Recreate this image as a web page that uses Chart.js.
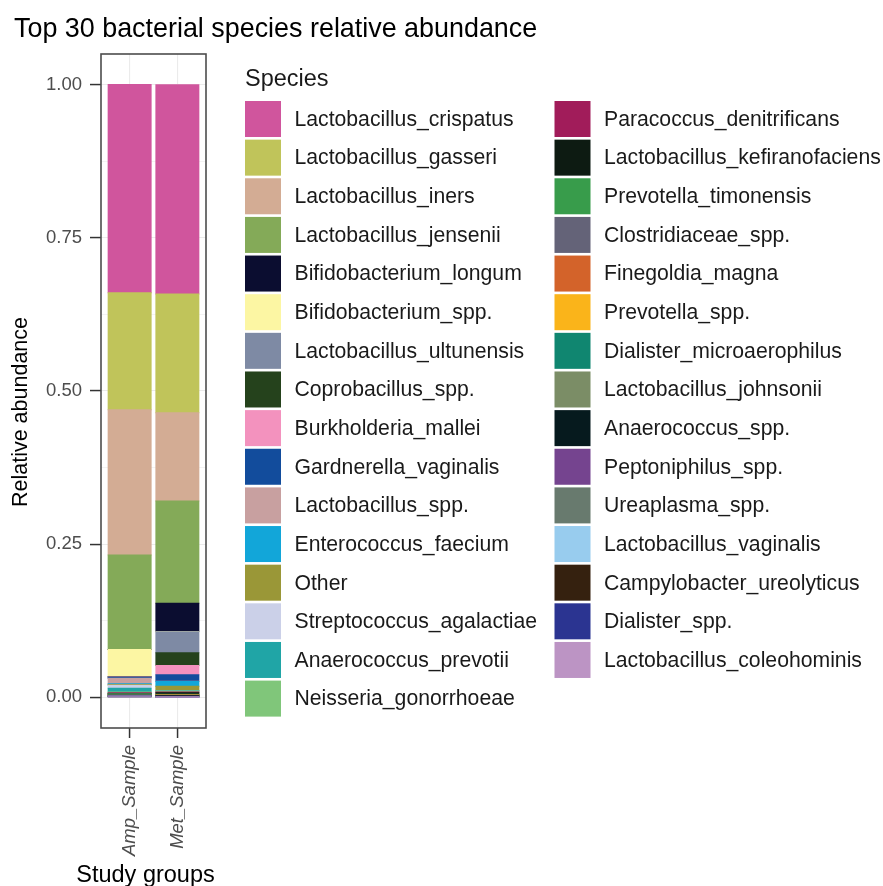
<!DOCTYPE html>
<html>
<head>
<meta charset="utf-8">
<script src="https://cdn.jsdelivr.net/npm/chart.js@4.4.0/dist/chart.umd.min.js"></script>
<style>
  html, body { margin: 0; padding: 0; background: #fff; }
  #wrap { width: 883px; height: 886px; position: relative; }
</style>
</head>
<body>
<div id="wrap"><canvas id="abundanceChart"></canvas></div>
<script>
// study groups on the x axis
const groups = ['Amp_Sample', 'Met_Sample'];
const groupPos = [1, 2];

// species in legend / stacking order (first one sits on top of the stack)
const species = [
    'Lactobacillus_crispatus', 'Lactobacillus_gasseri', 'Lactobacillus_iners', 'Lactobacillus_jensenii',
    'Bifidobacterium_longum', 'Bifidobacterium_spp.', 'Lactobacillus_ultunensis', 'Coprobacillus_spp.',
    'Burkholderia_mallei', 'Gardnerella_vaginalis', 'Lactobacillus_spp.', 'Enterococcus_faecium',
    'Other', 'Streptococcus_agalactiae', 'Anaerococcus_prevotii', 'Neisseria_gonorrhoeae',
    'Paracoccus_denitrificans', 'Lactobacillus_kefiranofaciens', 'Prevotella_timonensis', 'Clostridiaceae_spp.',
    'Finegoldia_magna', 'Prevotella_spp.', 'Dialister_microaerophilus', 'Lactobacillus_johnsonii',
    'Anaerococcus_spp.', 'Peptoniphilus_spp.', 'Ureaplasma_spp.', 'Lactobacillus_vaginalis',
    'Campylobacter_ureolyticus', 'Dialister_spp.', 'Lactobacillus_coleohominis'
];

const speciesColors = [
    '#D0559D', '#C0C45A', '#D3AC94', '#84AA58',
    '#0B0D30', '#FCF6A3', '#7E8AA4', '#25421C',
    '#F392BE', '#124C9C', '#C8A0A0', '#12A6D9',
    '#9A9737', '#CBD0E8', '#20A5A6', '#80C67A',
    '#A11C5A', '#0D1B12', '#389C4B', '#646378',
    '#D3632A', '#FAB41A', '#108670', '#7B8D66',
    '#061A1E', '#75448F', '#687A6E', '#98CCEE',
    '#35210F', '#2B3491', '#BC94C4'
];

// relative abundance per species, same order as species[]
const ampValues = [
    0.340, 0.191, 0.237, 0.154,
    0.000, 0.044, 0.0005, 0.0003,
    0.0005, 0.0018, 0.0090, 0.0012,
    0.0012, 0.0050, 0.0060, 0.0012,
    0.0012, 0.0003, 0.0010, 0.0003,
    0.0003, 0.0003, 0.0003, 0.0003,
    0.0003, 0.0012, 0.0003, 0.0003,
    0.0002, 0.0002, 0.0010
];
const metValues = [
    0.3415, 0.194, 0.144, 0.167,
    0.046, 0.0005, 0.034, 0.021,
    0.015, 0.0105, 0.0005, 0.008,
    0.007, 0.0003, 0.0003, 0.0015,
    0.0015, 0.0025, 0.0005, 0.0003,
    0.0003, 0.0003, 0.0003, 0.0003,
    0.0010, 0.0003, 0.0003, 0.0003,
    0.0005, 0.0002, 0.0003
];

// y axis breaks (major labelled, minor only as grid)
const yBreaks = [0, 0.125, 0.25, 0.375, 0.5, 0.625, 0.75, 0.875, 1];
const yMajor = [0, 0.25, 0.5, 0.75, 1];

const FONT = '"Liberation Sans", Arial, Helvetica, sans-serif';

function isMajor(v) {
    return yMajor.some(m => Math.abs(m - v) < 1e-9);
}

// titles, panel border and the two-column legend
const decorPlugin = {
    id: 'decor',
    afterDraw(chart) {
        const ctx = chart.ctx;
        const area = chart.chartArea;
        ctx.save();

        ctx.strokeStyle = '#4d4d4d';
        ctx.lineWidth = 1.6;
        ctx.strokeRect(area.left, area.top, area.right - area.left, area.bottom - area.top);

        ctx.fillStyle = '#000';
        ctx.textBaseline = 'alphabetic';
        ctx.textAlign = 'left';
        ctx.font = '26.9px ' + FONT;
        ctx.fillText('Top 30 bacterial species relative abundance', 14, 37);

        ctx.font = '23.5px ' + FONT;
        ctx.textAlign = 'center';
        ctx.fillText('Study groups', 145.5, 882);

        ctx.save();
        ctx.font = '21.5px ' + FONT;
        ctx.translate(27, 412);
        ctx.rotate(-Math.PI / 2);
        ctx.fillText('Relative abundance', 0, 0);
        ctx.restore();

        ctx.textAlign = 'left';
        ctx.fillStyle = '#1a1a1a';
        ctx.fillText('Species', 245, 86);

        // legend keys come from the same arrays as the bars
        ctx.font = '21.2px ' + FONT;
        ctx.textBaseline = 'middle';
        species.forEach((name, i) => {
            const col = i < 16 ? 0 : 1;
            const row = i < 16 ? i : i - 16;
            const kx = col === 0 ? 245 : 554.5;
            const ky = 101 + row * 38.64;
            ctx.fillStyle = speciesColors[i];
            ctx.fillRect(kx, ky, 36, 36);
            ctx.fillStyle = '#1a1a1a';
            ctx.fillText(name, kx + 49.5, ky + 19);
        });

        ctx.restore();
    }
};

document.addEventListener('DOMContentLoaded', function () {
    // Chart.js stacks the first dataset at the bottom, so feed them reversed
    const datasets = species.map((name, i) => ({
        label: name,
        data: groupPos.map((x, g) => ({ x: x, y: g === 0 ? ampValues[i] : metValues[i] })),
        backgroundColor: speciesColors[i],
        borderWidth: 0,
        inflateAmount: 0.5,
        barPercentage: 0.9,
        categoryPercentage: 1.0
    })).reverse();

    const chartCtx = document.getElementById('abundanceChart').getContext('2d');
    new Chart(chartCtx, {
        type: 'bar',
        data: { datasets: datasets },
        options: {
            responsive: true,
            maintainAspectRatio: false,
            animation: false,
            layout: { padding: { top: 54, right: 677, bottom: 0, left: 0 } },
            scales: {
                x: {
                    type: 'linear',
                    stacked: true,
                    offset: false,
                    min: 0.4,
                    max: 2.6,
                    afterBuildTicks(scale) {
                        scale.ticks = groupPos.map(v => ({ value: v }));
                    },
                    afterFit(scale) { scale.height = 158; },
                    ticks: {
                        autoSkip: false,
                        minRotation: 90,
                        maxRotation: 90,
                        padding: 7,
                        color: '#4d4d4d',
                        font: { family: FONT, size: 18.5, style: 'italic' },
                        callback: (value) => groups[groupPos.indexOf(value)] || ''
                    },
                    grid: {
                        offset: false,
                        color: '#ebebeb',
                        lineWidth: 1.1,
                        tickColor: '#333333',
                        tickWidth: 1.5,
                        tickLength: 10
                    },
                    border: { display: false }
                },
                y: {
                    stacked: true,
                    min: -0.05,
                    max: 1.05,
                    afterBuildTicks(scale) {
                        scale.ticks = yBreaks.map(v => ({ value: v }));
                    },
                    afterFit(scale) { scale.width = 101; },
                    ticks: {
                        autoSkip: false,
                        padding: 8,
                        color: '#4d4d4d',
                        font: { family: FONT, size: 18.5 },
                        callback: (value) => isMajor(value) ? value.toFixed(2) : ''
                    },
                    grid: {
                        color: '#ebebeb',
                        lineWidth: (c) => (c.tick && isMajor(c.tick.value)) ? 1.1 : 0.6,
                        tickColor: (c) => (c.tick && isMajor(c.tick.value)) ? '#333333' : 'rgba(0,0,0,0)',
                        tickWidth: 1.5,
                        tickLength: 11
                    },
                    border: { display: false }
                }
            },
            plugins: {
                legend: { display: false },
                tooltip: { enabled: false }
            }
        },
        plugins: [decorPlugin]
    });
});
</script>
</body>
</html>
